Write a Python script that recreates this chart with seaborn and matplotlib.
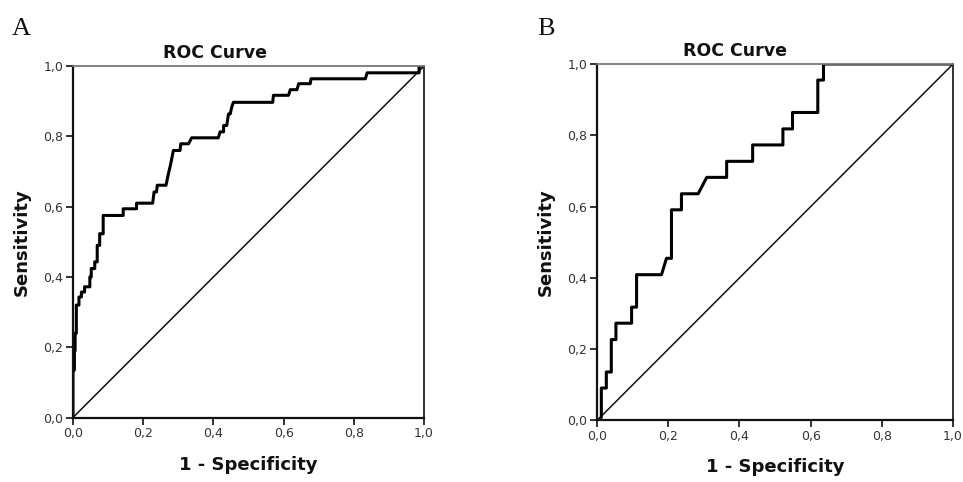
import matplotlib
matplotlib.use("Agg")
import matplotlib.pyplot as plt
import seaborn as sns
import pandas as pd

# Panel A ROC curve (1 - specificity, sensitivity)
fpr_a = [0.0, 0.0, 0.004, 0.004, 0.006, 0.006, 0.0095, 0.0095, 0.017, 0.017, 0.024, 0.024,
         0.033, 0.033, 0.048, 0.048, 0.052, 0.052, 0.062, 0.062, 0.069, 0.069, 0.076, 0.076,
         0.086, 0.086, 0.143, 0.143, 0.181, 0.181, 0.227, 0.231, 0.238, 0.240, 0.265, 0.271,
         0.278, 0.286, 0.305, 0.307, 0.329, 0.338, 0.414, 0.419, 0.429, 0.429, 0.438, 0.443,
         0.448, 0.452, 0.457, 0.569, 0.571, 0.614, 0.619, 0.638, 0.643, 0.676, 0.678, 0.833,
         0.838, 0.986, 0.986, 1.0]
tpr_a = [0.0, 0.135, 0.135, 0.19, 0.19, 0.24, 0.24, 0.32, 0.32, 0.343, 0.343, 0.357,
         0.357, 0.372, 0.372, 0.40, 0.40, 0.424, 0.424, 0.443, 0.443, 0.49, 0.49, 0.523,
         0.523, 0.575, 0.575, 0.594, 0.594, 0.61, 0.61, 0.642, 0.642, 0.661, 0.661, 0.69,
         0.72, 0.76, 0.76, 0.779, 0.779, 0.796, 0.796, 0.813, 0.813, 0.831, 0.831, 0.864,
         0.864, 0.883, 0.897, 0.897, 0.917, 0.917, 0.933, 0.933, 0.95, 0.95, 0.964, 0.964,
         0.981, 0.981, 1.0, 1.0]

# Panel B ROC curve
fpr_b = [0.0, 0.003, 0.012, 0.012, 0.026, 0.026, 0.040, 0.040, 0.053, 0.053, 0.097, 0.097,
         0.111, 0.111, 0.181, 0.195, 0.209, 0.209, 0.237, 0.237, 0.284, 0.308, 0.364, 0.364,
         0.437, 0.437, 0.522, 0.522, 0.549, 0.549, 0.620, 0.620, 0.636, 0.636, 1.0]
tpr_b = [0.0, 0.0, 0.009, 0.091, 0.091, 0.136, 0.136, 0.227, 0.227, 0.273, 0.273, 0.318,
         0.318, 0.409, 0.409, 0.455, 0.455, 0.591, 0.591, 0.636, 0.636, 0.682, 0.682, 0.727,
         0.727, 0.773, 0.773, 0.818, 0.818, 0.864, 0.864, 0.955, 0.955, 1.0, 1.0]

ref_line = [0.0, 1.0]
ticks = [0.0, 0.2, 0.4, 0.6, 0.8, 1.0]
tick_labels = ["0,0", "0,2", "0,4", "0,6", "0,8", "1,0"]
panel_labels = ["A", "B"]
title_text = "ROC Curve"
xlabel_text = "1 - Specificity"
ylabel_text = "Sensitivity"

sns.set_theme(style="white")
plt.rcParams['font.family'] = ['DejaVu Sans']

fig = plt.figure(figsize=(9.63, 4.82), dpi=100)
axA = fig.add_axes([0.0758, 0.1338, 0.3645, 0.729])
axB = fig.add_axes([0.620, 0.1276, 0.3697, 0.7396])

panels = [
    (axA, fpr_a, tpr_a, 0.405),
    (axB, fpr_b, tpr_b, 0.388),
]

for ax, fx, ty, tx in panels:
    df = pd.DataFrame({"fpr": fx, "tpr": ty})
    ref = pd.DataFrame({"x": ref_line, "y": ref_line})
    sns.lineplot(data=ref, x="x", y="y", ax=ax, color="#111111", linewidth=1.1,
                 sort=False, estimator=None)
    sns.lineplot(data=df, x="fpr", y="tpr", ax=ax, color="#000000", linewidth=2.2,
                 sort=False, estimator=None)
    ax.set_xlim(0, 1)
    ax.set_ylim(0, 1)
    ax.set_xticks(ticks)
    ax.set_xticklabels(tick_labels)
    ax.set_yticks(ticks)
    ax.set_yticklabels(tick_labels)
    ax.tick_params(axis="both", which="both", direction="out", length=5, width=1.3,
                   colors="#222222", labelsize=9, labelcolor="#333333",
                   bottom=True, left=True, top=False, right=False, pad=2)
    for side in ["left", "bottom"]:
        ax.spines[side].set_color("#111111")
        ax.spines[side].set_linewidth(1.6)
    ax.spines["right"].set_color("#222222")
    ax.spines["right"].set_linewidth(1.3)
    ax.spines["top"].set_color("#777777")
    ax.spines["top"].set_linewidth(1.3)
    for s in ax.spines.values():
        s.set_visible(True)
    ax.set_xlabel(xlabel_text, fontsize=13, fontweight="bold", color="#111111", labelpad=11)
    ax.set_ylabel(ylabel_text, fontsize=13, fontweight="bold", color="#111111", labelpad=9)
    ax.text(tx, 1.012, title_text, transform=ax.transAxes, ha="center", va="bottom",
            fontsize=12.5, fontweight="bold", color="#111111")
    ax.grid(False)
    ax.set_facecolor("white")

fig.text(12 / 963, 1 - 35 / 482, panel_labels[0], fontsize=19, family="Liberation Serif",
         ha="left", va="baseline", color="#111111")
fig.text(537 / 963, 1 - 35 / 482, panel_labels[1], fontsize=19, family="Liberation Serif",
         ha="left", va="baseline", color="#111111")

fig.savefig("out.png", dpi=100, facecolor="white")
